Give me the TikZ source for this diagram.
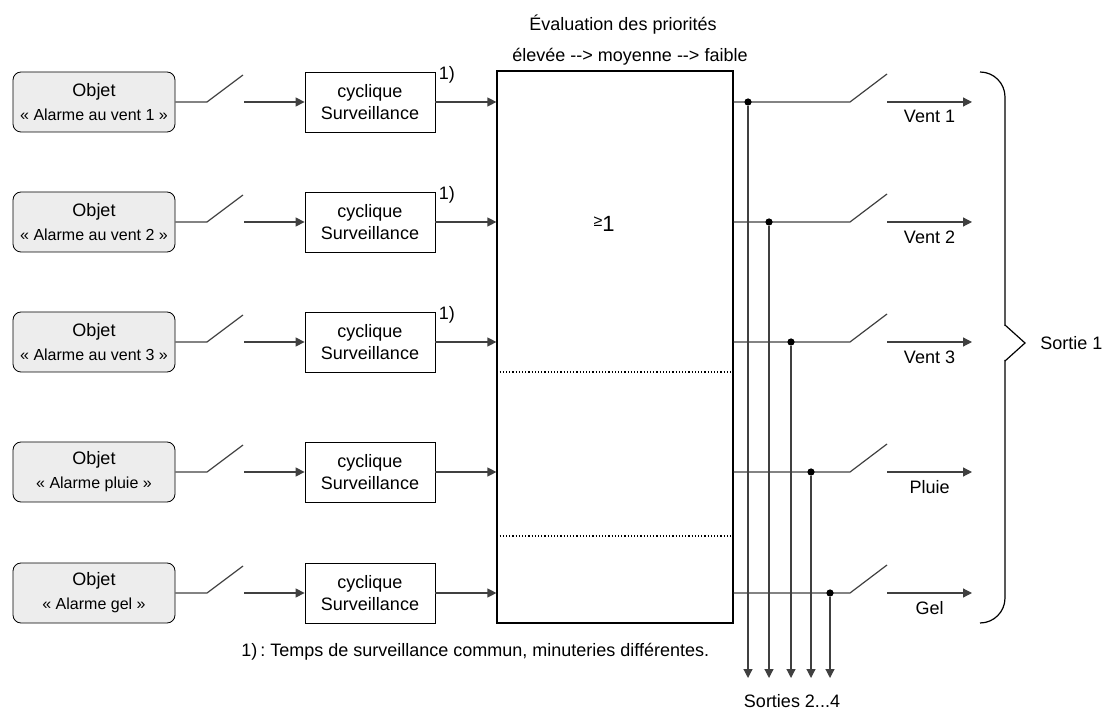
\documentclass[tikz,border=0pt]{standalone}
\usepackage{fontspec}
\setmainfont{Liberation Sans}
\usetikzlibrary{positioning, arrows.meta}
\frenchspacing

\tikzset{
  objet/.style={rectangle, draw, rounded corners=4pt, fill=black!7, minimum width=81pt, minimum height=30pt, align=center, inner sep=0pt, font=\fontsize{9}{12}\selectfont},
  surv/.style={rectangle, draw, minimum width=65pt, minimum height=30pt, align=center, inner sep=0pt, font=\fontsize{9}{11}\selectfont},
  fil/.style={draw=black!75, line width=0.6pt},
  fleche/.style={fil, -{Triangle[length=4.5pt, width=4.5pt]}},
  point/.style={circle, fill=black, inner sep=0pt, minimum size=3.6pt},
  texte/.style={font=\fontsize{9}{11}\selectfont, inner sep=1pt}
}

\begin{document}
\begin{tikzpicture}[x=0.5pt, y=-0.5pt]
\useasboundingbox (0,0) rectangle (1102,710);

% Evaluation block
\node[texte] (titre) at (623,25) {Évaluation des priorités};
\node[texte] (ordre) at (630,57) {élevée -{}-> moyenne -{}-> faible};
\node[rectangle, draw, line width=0.6pt, minimum width=118pt, minimum height=276pt] (eval) at (615,347) {};
\node (ge) at (604,224) {\raisebox{2.5pt}{\fontsize{8}{8}\selectfont ≥}\fontsize{11}{11}\selectfont 1};
\draw[densely dotted, line width=0.6pt] (eval.west |- 0,372) -- (eval.east |- 0,372);
\draw[densely dotted, line width=0.6pt] (eval.west |- 0,536) -- (eval.east |- 0,536);

\foreach \y/\nom/\sortie/\px [count=\i] in {102/{au vent 1}/{Vent 1}/748, 222/{au vent 2}/{Vent 2}/769, 342/{au vent 3}/{Vent 3}/791, 472/pluie/Pluie/811, 593/gel/Gel/830} {
    % Input side
    \node[objet] (obj\i) at (94,\y) {Objet\\{\fontsize{8}{12}\selectfont «~Alarme \nom~»}};
    \node[surv] (cyc\i) at (370,\y) {cyclique\\Surveillance};
    \coordinate (sa\i) at (207,\y);
    \coordinate (sb\i) at (243,\y-27);
    \coordinate (sc\i) at (244,\y);
    \draw[fil] (obj\i.east) -- (sa\i) -- (sb\i);
    \draw[fleche] (sc\i) -- (cyc\i.west);
    \draw[fleche] (cyc\i.east) -- (cyc\i.east -| eval.west);
    \ifnum\i<4
        \node[texte, anchor=west, inner sep=1.5pt] (renvoi\i) at ([yshift=-1.75pt]cyc\i.north east) {1)};
    \fi

    % Output side
    \coordinate (sd\i) at (850,\y);
    \coordinate (se\i) at (887,\y-28);
    \coordinate (sf\i) at (887,\y);
    \coordinate (sg\i) at (972,\y);
    \coordinate (bas\i) at (\px,678);
    \draw[fil] (eval.east |- sa\i) -- (sd\i) -- (se\i);
    \draw[fleche] (sf\i) -- (sg\i) node[texte, midway, below=3pt] (nom\i) {\sortie};
    \node[point] (pt\i) at (\px,\y) {};
    \draw[fleche] (pt\i) -- (bas\i);
}

% Brace
\draw[line width=0.6pt, rounded corners=12.5pt] (980,72) -- (1005,72) -- (1005,326);
\draw[line width=0.6pt] (1005,325) -- (1025,343) -- (1005,361);
\draw[line width=0.6pt, rounded corners=12.5pt] (1005,360) -- (1005,623) -- (980,623);
\node[texte, anchor=west] (sortie) at (1038,343) {Sortie 1};

\node[texte] (sorties) at (792,701) {Sorties 2...4};
\node[texte, anchor=west] (note) at (239,652) {1)\,: Temps de surveillance commun, minuteries différentes.};

\end{tikzpicture}
\end{document}
